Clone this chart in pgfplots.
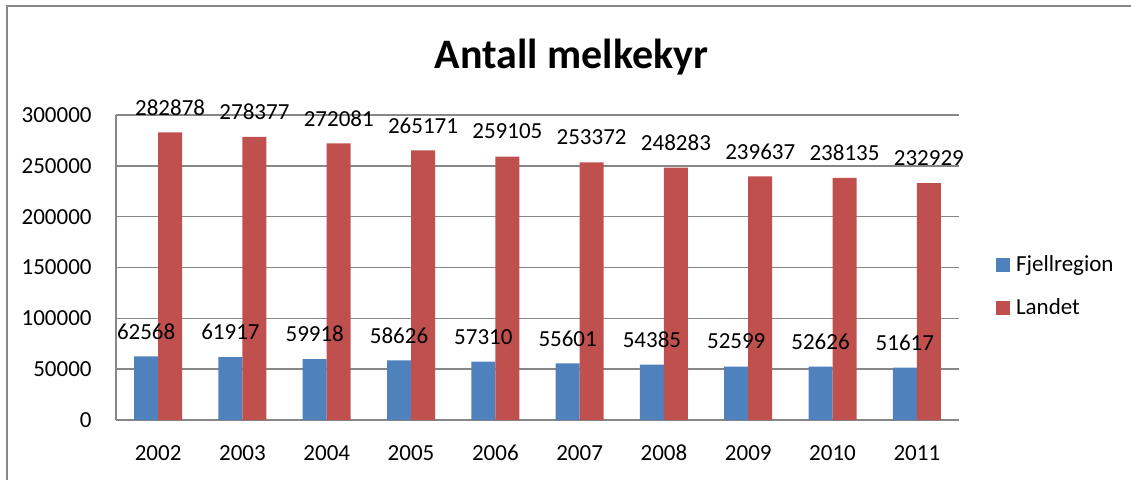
\documentclass[border=0pt]{standalone}
\usepackage{fontspec}
\setmainfont{Carlito}
\usepackage{pgfplots}
\pgfplotsset{compat=1.18}
\definecolor{xlblue}{HTML}{4F81BD}
\definecolor{xlred}{HTML}{C0504D}
\definecolor{xlgrid}{HTML}{878787}
\begin{document}
\begin{tikzpicture}
\useasboundingbox (0,0) rectangle (565.5pt,239.5pt);
\draw[xlgrid, line width=0.8pt] (3.5pt,-2pt) -- (3.5pt,236.5pt) -- (567pt,236.5pt);
\node[anchor=base, font=\fontsize{21}{25}\selectfont\bfseries] at (285.75pt,205.5pt) {Antall melkekyr};
\begin{axis}[
  at={(58pt,29.5pt)}, anchor=south west,
  scale only axis, width=421.5pt, height=152.5pt,
  ybar=0pt, bar width=12pt,
  xmin=-0.5, xmax=9.5, ymin=0, ymax=300000,
  xtick={0,...,9},
  xticklabels={2002,2003,2004,2005,2006,2007,2008,2009,2010,2011},
  ytick={0,50000,100000,150000,200000,250000,300000},
  scaled y ticks=false,
  /pgf/number format/assume math mode=true,
  /pgf/number format/1000 sep={},
  /pgf/number format/fixed,
  axis x line*=bottom, axis y line*=left,
  axis line style={xlgrid, line width=1pt, -},
  major tick length=0pt,
  ymajorgrids, grid style={xlgrid, line width=0.75pt},
  tick label style={font=\fontsize{11.5}{13}\selectfont, inner sep=0pt},
  xticklabel style={anchor=center, yshift=-16.5pt},
  yticklabel style={anchor=east, xshift=-12pt},
  point meta=explicit symbolic,
  nodes near coords,
  every node near coord/.append style={font=\fontsize{11.5}{13}\selectfont, anchor=center, inner sep=0pt, yshift=12.5pt, black},
  clip=false,
  legend style={at={(1.0439,0.4377)}, anchor=west, draw=none, fill=none,
    inner sep=0pt, outer sep=0pt, row sep=12.5pt, column sep=3pt,
    font=\fontsize{11.5}{13}\selectfont,
    nodes={inner sep=0pt}},
  legend cell align=left,
  legend image code/.code={\fill[#1] (0pt,-3.5pt) rectangle (7pt,3.5pt);},
]
\addplot[fill=xlblue, draw=none] coordinates {
(0,62568) [62568] (1,61917) [61917] (2,59918) [59918] (3,58626) [58626] (4,57310) [57310]
(5,55601) [55601] (6,54385) [54385] (7,52599) [52599] (8,52626) [52626] (9,51617) [51617]};
\addplot[fill=xlred, draw=none] coordinates {
(0,282878) [282878] (1,278377) [278377] (2,272081) [272081] (3,265171) [265171] (4,259105) [259105]
(5,253372) [253372] (6,248283) [248283] (7,239637) [239637] (8,238135) [238135] (9,232929) [232929]};
\legend{Fjellregion, Landet}
\end{axis}
\end{tikzpicture}
\end{document}
